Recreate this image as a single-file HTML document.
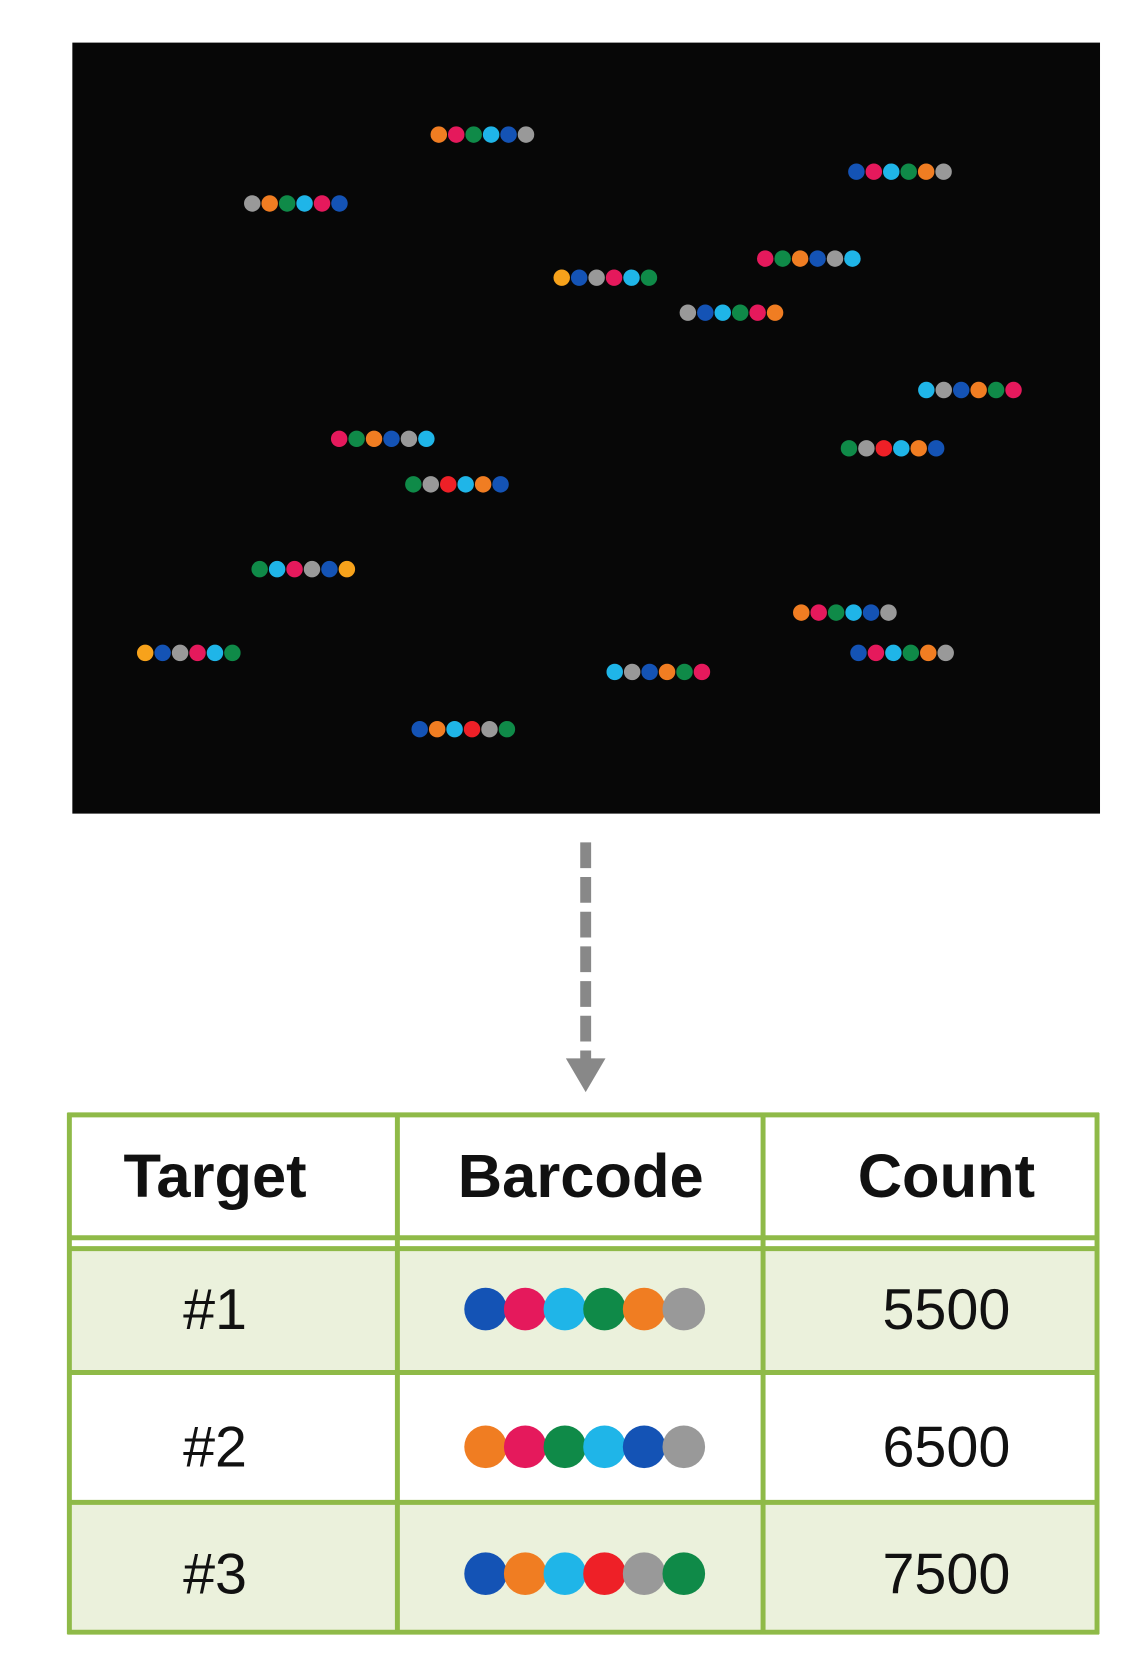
<!DOCTYPE html>
<html><head><meta charset="utf-8">
<style>
body{margin:0;background:#fff;width:1123px;height:1661px;overflow:hidden;font-family:"Liberation Sans",Arial,sans-serif}
svg{display:block}
</style></head>
<body>
<svg id="s" width="1123" height="1661">
<g transform="scale(0.991)">
<rect x="73" y="43" width="1037" height="778" fill="#070707"/>
<g>
<line x1="591" y1="850" x2="591" y2="1070" stroke="#888" stroke-width="11" stroke-dasharray="26,9"/>
<polygon points="571,1068 611,1068 591,1102" fill="#888"/>
</g>
<g id="tbl"></g>
<g id="strips"></g>
</g>
</svg>
<script>
const C={o:"#f07d22",p:"#e5195c",g:"#0f8a48",c:"#1fb5e8",b:"#1453b5",y:"#999",r:"#ee2027",a:"#f7a21b"};
const stripX=[414,808,238,722,530,649,874,320,801,390,245,756,137,810,580,396];
const stripY=[127,162,192,244,262,295,368,414,423,457,537,578,616,616,634,688];
const stripCodes=["opgcby","bpcgoy","yogcpb","pgobyc","abypcg","ybcgpo","cybogp","pgobyc","gyrcob","gyrcob","gcpyba","opgcby","abypcg","bpcgoy","cybogp","bocryg"];
const targets=["#1","#2","#3"];
const barcodes=["bpcgoy","opgcby","bocryg"];
const counts=[5500,6500,7500];
const NS="http://www.w3.org/2000/svg";
const k=1.0695;
function el(t,a,p){const e=document.createElementNS(NS,t);for(const n in a)e.setAttribute(n,a[n]);p.appendChild(e);return e;}
const sg=document.getElementById('strips');
stripX.forEach((x,i)=>{
  const g=el('g',{},sg);
  
  
  [...stripCodes[i]].forEach((ch,j)=>{
    const d=el('circle',{cx:x*k+j*17.6,cy:stripY[i]*k,r:8.3,fill:C[ch]},g);
    
    
  });
});
const tg=document.getElementById('tbl');
const G="#8fba48";
const rowsY=[1125,1260,1385,1516,1647];
const colsX=[70,401,770,1107];
for(let r=0;r<3;r++){
  const bg=el('rect',{x:70,y:rowsY[r+1],width:1037,height:rowsY[r+2]-rowsY[r+1],fill:r%2==0?"#ebf1dc":"#fff"},tg);
  
  
}
rowsY.forEach((y,i)=>{el('line',{x1:68,x2:1109,y1:y,y2:y,stroke:G,"stroke-width":5},tg);});
el('line',{x1:68,x2:1109,y1:1249,y2:1249,stroke:G,"stroke-width":5},tg);
colsX.forEach(x=>{el('line',{x1:x,x2:x,y1:1123,y2:1649,stroke:G,"stroke-width":5},tg);});
const hdr=["Target","Barcode","Count"],hx=[217,586,955];
hdr.forEach((h,i)=>{const t=el('text',{x:hx[i],y:1208,"text-anchor":"middle","font-size":62,"font-weight":"bold",fill:"#111"},tg);t.textContent=h;
  
  });
const ry=[1321,1460,1588];
targets.forEach((t,i)=>{
  const a=el('text',{x:217,y:ry[i]+20,"text-anchor":"middle","font-size":58,fill:"#111"},tg);a.textContent=t;
  
  
  const c=el('text',{x:955,y:ry[i]+20,"text-anchor":"middle","font-size":58,fill:"#111"},tg);c.textContent=counts[i];
  
  
  [...barcodes[i]].forEach((ch,j)=>{
    const d=el('circle',{cx:490+j*40,cy:ry[i],r:21.5,fill:C[ch]},tg);
    
    
  });
});
</script>
</body></html>
